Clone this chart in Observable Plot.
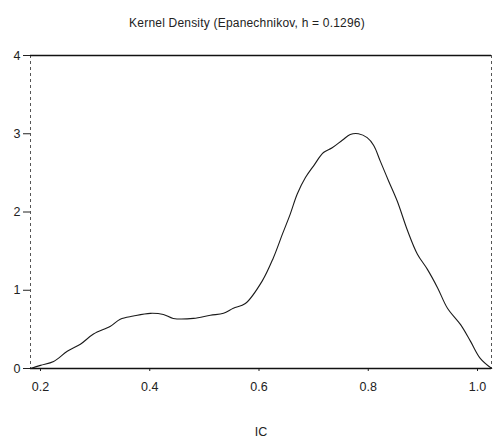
<!DOCTYPE html>
<html>
<head>
<meta charset="utf-8">
<script src="https://cdn.jsdelivr.net/npm/d3@7"></script>
<script src="https://cdn.jsdelivr.net/npm/@observablehq/plot@0.6"></script>
<style>
  body { margin: 0; background: #fff; font-family: "Liberation Sans", Arial, sans-serif; }
  #title { height: 45px; width: 494px; text-align: center; font-size: 12px; line-height: 46px; color: #222; letter-spacing: 0.2px; }
</style>
</head>
<body>
<div id="title">Kernel Density (Epanechnikov, h = 0.1296)</div>
<div id="chart"></div>
<script>
const titleText = "Kernel Density (Epanechnikov, h = 0.1296)";
const xLabel = "IC";
const xDomain = [0.1817, 1.0256];
const yDomain = [0, 4];
const xTicks = [0.2, 0.4, 0.6, 0.8, 1.0];
const yTicks = [0, 1, 2, 3, 4];
const icValues = [0.182, 0.200, 0.224, 0.249, 0.273, 0.297, 0.328, 0.346, 0.370, 0.401, 0.425, 0.443, 0.480, 0.511, 0.535, 0.553, 0.575, 0.606, 0.626, 0.643, 0.657, 0.670, 0.685, 0.700, 0.718, 0.734, 0.753, 0.767, 0.782, 0.798, 0.810, 0.822, 0.837, 0.853, 0.872, 0.890, 0.908, 0.927, 0.945, 0.969, 0.987, 1.005, 1.026];
const densityValues = [0.00, 0.04, 0.09, 0.22, 0.31, 0.44, 0.54, 0.63, 0.67, 0.705, 0.69, 0.64, 0.64, 0.68, 0.705, 0.77, 0.83, 1.12, 1.41, 1.72, 1.97, 2.23, 2.44, 2.59, 2.76, 2.82, 2.92, 2.99, 3.00, 2.95, 2.85, 2.65, 2.40, 2.14, 1.76, 1.46, 1.27, 1.03, 0.77, 0.56, 0.35, 0.13, 0.00];

const data = icValues.map((x, i) => ({x, y: densityValues[i]}));

const chart = Plot.plot({
  width: 494,
  height: 398,
  marginLeft: 30,
  marginRight: 3,
  marginTop: 10,
  marginBottom: 75,
  style: {fontFamily: "'Liberation Sans', Arial, sans-serif", fontSize: "12.5px", color: "#222", background: "white"},
  x: {domain: xDomain, ticks: xTicks, tickFormat: d3.format(".1f"), tickSize: 3, tickPadding: 11, label: null},
  y: {domain: yDomain, ticks: yTicks, tickFormat: d3.format("d"), tickSize: 7, tickPadding: 3, label: null},
  marks: [
    Plot.ruleX([xDomain[0], xDomain[1]], {stroke: "#555", strokeDasharray: "3,3", strokeWidth: 1}),
    Plot.ruleY([yDomain[1]], {stroke: "#111", strokeWidth: 1.5}),
    Plot.ruleY([yDomain[0]], {stroke: "#111", strokeWidth: 1.5}),
    Plot.line(data, {x: "x", y: "y", curve: "catmull-rom", stroke: "#1a1a1a", strokeWidth: 1.1}),
    Plot.text([xLabel], {frameAnchor: "bottom", dy: 67, text: d => d, fontSize: 12.5, fill: "#222"})
  ]
});
document.getElementById("chart").appendChild(chart);
</script>
</body>
</html>
